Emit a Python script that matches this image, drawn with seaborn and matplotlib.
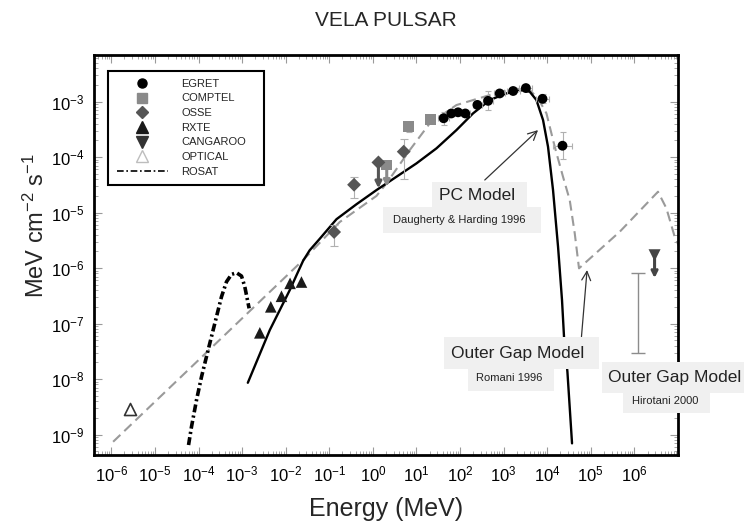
import numpy as np
import pandas as pd
import matplotlib
matplotlib.use("Agg")
import matplotlib.pyplot as plt
import seaborn as sns
from matplotlib.lines import Line2D
from matplotlib.patches import Rectangle
from matplotlib.ticker import FixedLocator, FuncFormatter, LogLocator, NullFormatter

# ---------------- measurements ----------------
egret_energy = [42, 63, 90, 132, 250, 440, 810, 1650, 3240, 7800, 22400]
egret_flux = [5.0e-4, 6.1e-4, 6.4e-4, 6.1e-4, 8.7e-4, 1.03e-3, 1.4e-3, 1.55e-3, 1.75e-3, 1.12e-3, 1.6e-4]
egret_err_dex = [0.12, 0.04, 0.04, 0.04, 0.06, 0.17, 0.05, 0.05, 0.04, 0.08, 0.24]
egret_bin_dex = [0.12, 0.10, 0.10, 0.10, 0.10, 0.12, 0.12, 0.15, 0.15, 0.15, 0.22]

comptel_energy = [6.65, 20.7]
comptel_flux = [3.5e-4, 4.8e-4]
comptel_err_dex = [0.09, 0.06]
comptel_limit_energy = [2.08]
comptel_limit_flux = [7.2e-5]
comptel_limit_floor = [2.9e-5]

osse_energy = [0.129, 0.37, 5.1]
osse_flux = [4.46e-6, 3.17e-5, 1.25e-4]
osse_flux_lo = [2.52e-6, 1.80e-5, 3.96e-5]
osse_flux_hi = [5.96e-6, 4.35e-5, 2.08e-4]
osse_limit_energy = [1.34]
osse_limit_flux = [8.0e-5]
osse_limit_floor = [2.73e-5]

rxte_energy = [2.55e-3, 4.55e-3, 8.0e-3, 1.26e-2, 2.3e-2]
rxte_flux = [6.8e-8, 2.0e-7, 3.1e-7, 5.3e-7, 5.6e-7]

optical_energy = [2.75e-6]
optical_flux = [2.85e-9]

cangaroo_energy = [2.9e6]
cangaroo_flux = [1.7e-6]
cangaroo_floor = [6.6e-7]

hirotani_energy = [1.2e6]
hirotani_lo = [3.0e-8]
hirotani_hi = [8.2e-7]

# ---------------- model / ROSAT curves (log10 MeV, log10 flux) ----------------
rosat_log_e = [-4.229, -4.161, -4.046, -3.931, -3.78, -3.626, -3.473, -3.358,
               -3.243, -3.128, -3.014, -2.938, -2.885, -2.839]
rosat_log_f = [-9.189, -8.859, -8.378, -7.958, -7.477, -6.996, -6.517, -6.247,
               -6.114, -6.085, -6.144, -6.337, -6.546, -6.726]

pc_log_e = [-2.869, -2.365, -1.906, -1.75, -1.601, -1.45, -1.216, -0.835, -0.376, 0.083,
            0.541, 1.0, 1.459, 1.917, 2.298, 2.681, 3.064, 3.445, 3.599, 3.752, 3.904,
            4.018, 4.133, 4.248, 4.339, 4.385, 4.463, 4.569]
pc_log_f = [-8.067, -7.117, -6.396, -6.125, -5.87, -5.68, -5.47, -5.12, -4.85, -4.595,
            -4.355, -4.114, -3.843, -3.514, -3.213, -2.973, -2.852, -2.793, -2.823, -2.973,
            -3.333, -3.814, -4.595, -5.616, -6.577, -7.238, -7.869, -9.159]

og_log_e = [-5.959, -1.601, -0.759, 0.083, 0.312, 0.846, 1.305, 1.917, 2.681, 3.216,
            3.599, 3.789, 3.982, 4.172, 4.362, 4.516, 4.631, 4.729, 5.663, 6.541,
            6.734, 6.924, 7.05]
og_log_f = [-9.13, -5.856, -5.17, -4.7, -4.474, -3.874, -3.393, -3.063, -2.883, -2.762,
            -2.793, -2.942, -3.213, -3.814, -4.355, -4.775, -5.375, -6.005, -5.346, -4.625,
            -4.924, -5.436, -5.65]

x_ticks = [10.0 ** k for k in range(-6, 7)]
y_ticks = [10.0 ** k for k in range(-9, -2)]


def curve(log_e, log_f):
    return pd.DataFrame({"energy": np.power(10.0, log_e), "flux": np.power(10.0, log_f)})


# ---------------- style ----------------
sns.set_theme(style="ticks")
plt.rcParams["font.family"] = ["Liberation Sans", "DejaVu Sans"]
plt.rcParams["mathtext.fontset"] = "custom"
plt.rcParams["mathtext.rm"] = "Liberation Sans"
plt.rcParams["mathtext.it"] = "Liberation Sans:italic"
plt.rcParams["mathtext.bf"] = "Liberation Sans:bold"

W, H = 744, 527
fig = plt.figure(figsize=(W / 100, H / 100), dpi=100)
fig.patch.set_facecolor("white")
ax = fig.add_axes([94 / W, 72 / H, 584 / W, 400 / H])
ax.set_xscale("log")
ax.set_yscale("log")

# ---------------- curves ----------------
sns.lineplot(data=curve(og_log_e, og_log_f), x="energy", y="flux", sort=False,
             estimator=None, color="#9a9a9a", lw=1.5, linestyle=(0, (4.8, 2.6)), ax=ax)
sns.lineplot(data=curve(pc_log_e, pc_log_f), x="energy", y="flux", sort=False,
             estimator=None, color="black", lw=1.7, ax=ax)
sns.lineplot(data=curve(rosat_log_e, rosat_log_f), x="energy", y="flux", sort=False,
             estimator=None, color="black", lw=2.6, linestyle=(0, (2.2, 0.9, 0.6, 0.9)), ax=ax)

# ---------------- error bars ----------------
eg_e = np.array(egret_energy)
eg_f = np.array(egret_flux)
eg_d = np.array(egret_err_dex)
eg_b = np.array(egret_bin_dex)
ax.errorbar(eg_e, eg_f,
            yerr=[eg_f * (1 - 10 ** -eg_d), eg_f * (10 ** eg_d - 1)],
            xerr=[eg_e * (1 - 10 ** -eg_b), eg_e * (10 ** eg_b - 1)],
            fmt="none", ecolor="#b0b0b0", elinewidth=0.8, capsize=2, capthick=0.8, zorder=3)
cp_e = np.array(comptel_energy)
cp_f = np.array(comptel_flux)
cp_d = np.array(comptel_err_dex)
ax.errorbar(cp_e, cp_f, yerr=[cp_f * (1 - 10 ** -cp_d), cp_f * (10 ** cp_d - 1)],
            fmt="none", ecolor="#b0b0b0", elinewidth=0.8, capsize=2, capthick=0.8, zorder=3)
os_f = np.array(osse_flux)
ax.errorbar(osse_energy, os_f,
            yerr=[os_f - np.array(osse_flux_lo), np.array(osse_flux_hi) - os_f],
            fmt="none", ecolor="#b0b0b0", elinewidth=0.8, capsize=3, capthick=0.8, zorder=3)
hi_mid = np.sqrt(np.array(hirotani_lo) * np.array(hirotani_hi))
ax.errorbar(hirotani_energy, hi_mid,
            yerr=[hi_mid - np.array(hirotani_lo), np.array(hirotani_hi) - hi_mid],
            fmt="none", ecolor="#8c8c8c", elinewidth=1.0, capsize=5, capthick=1.0, zorder=3)

# ---------------- upper limits ----------------
for e, top, floor, col, style in [
    (osse_limit_energy[0], osse_limit_flux[0], osse_limit_floor[0], "#555555", "-|>"),
    (comptel_limit_energy[0], comptel_limit_flux[0], comptel_limit_floor[0], "#8a8a8a", "-|>"),
    (cangaroo_energy[0], cangaroo_flux[0], cangaroo_floor[0], "#444444", "->"),
]:
    ax.annotate("", xy=(e, floor), xytext=(e, top),
                arrowprops=dict(arrowstyle=style, color=col, lw=2.2, mutation_scale=9,
                                shrinkA=0, shrinkB=0), zorder=4)

# ---------------- data points ----------------
sns.scatterplot(x=egret_energy, y=egret_flux, marker="o", color="black", s=50,
                edgecolor="none", ax=ax, zorder=5)
sns.scatterplot(x=comptel_energy + comptel_limit_energy, y=comptel_flux + comptel_limit_flux,
                marker="s", color="#8a8a8a", s=60, edgecolor="none", ax=ax, zorder=5)
sns.scatterplot(x=osse_energy + osse_limit_energy, y=osse_flux + osse_limit_flux,
                marker="D", color="#555555", s=50, edgecolor="none", ax=ax, zorder=5)
sns.scatterplot(x=rxte_energy, y=rxte_flux, marker="^", color="#1a1a1a", s=70,
                edgecolor="none", ax=ax, zorder=5)
sns.scatterplot(x=cangaroo_energy, y=cangaroo_flux, marker="v", color="#444444", s=75,
                edgecolor="none", ax=ax, zorder=5)
sns.scatterplot(x=optical_energy, y=optical_flux, marker="^", facecolor="white",
                edgecolor="#333333", linewidth=1.2, s=75, ax=ax, zorder=5)

# ---------------- axes ----------------
ax.set_xlim(4.0e-7, 1.0e7)
ax.set_ylim(4.28e-10, 6.9e-3)
ax.xaxis.set_major_locator(FixedLocator(x_ticks))
ax.yaxis.set_major_locator(FixedLocator(y_ticks))
ax.xaxis.set_minor_locator(LogLocator(base=10, subs=np.arange(2, 10), numticks=100))
ax.yaxis.set_minor_locator(LogLocator(base=10, subs=np.arange(2, 10), numticks=100))
ax.xaxis.set_minor_formatter(NullFormatter())
ax.yaxis.set_minor_formatter(NullFormatter())
sci = FuncFormatter(lambda v, p: r"$\mathregular{10^{%d}}$" % int(round(np.log10(v))))
ax.xaxis.set_major_formatter(sci)
ax.yaxis.set_major_formatter(sci)
ax.tick_params(which="both", direction="in", top=True, right=True, color="#9a9a9a",
               labelsize=12, labelcolor="black")
ax.tick_params(which="major", length=6, width=0.8, pad=7)
ax.tick_params(which="minor", length=3, width=0.6)
for sp in ax.spines.values():
    sp.set_color("black")
    sp.set_linewidth(2.0)

ax.set_xlabel("Energy (MeV)", fontsize=18)
ax.xaxis.set_label_coords(0.5, -0.135)
ax.xaxis.label.set_va("center")
ax.set_ylabel(r"MeV cm$\mathregular{^{-2}}$ s$\mathregular{^{-1}}$", fontsize=17)
ax.yaxis.set_label_coords(-0.098, 0.575)
ax.yaxis.label.set_va("center")
fig.text(386 / W, 1 - 21 / H, "VELA PULSAR", ha="center", va="center", fontsize=15)

# ---------------- legend ----------------
handles = [
    Line2D([], [], ls="none", marker="o", color="black", ms=6.5, label="EGRET"),
    Line2D([], [], ls="none", marker="s", color="#8a8a8a", ms=7, label="COMPTEL"),
    Line2D([], [], ls="none", marker="D", color="#555555", ms=6.3, label="OSSE"),
    Line2D([], [], ls="none", marker="^", color="#1a1a1a", ms=8, label="RXTE"),
    Line2D([], [], ls="none", marker="v", color="#333333", ms=8.5, label="CANGAROO"),
    Line2D([], [], ls="none", marker="^", mfc="white", mec="#bdbdbd", mew=1.0, ms=8.5,
           label="OPTICAL"),
    Line2D([], [], color="black", lw=1.2, ls=(0, (4, 1.6, 1, 1.6)), label="ROSAT"),
]
# legend frame drawn as its own box so its width can be set
ax.add_patch(Rectangle((108.3 / W, 1 - 185.3 / H), (264.3 - 108.3) / W, (185.3 - 70.7) / H,
                       transform=fig.transFigure, fc="white", ec="black", lw=1.5,
                       zorder=4.8, clip_on=False))
leg = ax.legend(handles=handles, loc="upper left", bbox_to_anchor=(0.0245, 0.961),
                borderaxespad=0, fontsize=8, frameon=False, handlelength=4.6,
                handletextpad=1.25, labelspacing=0.42, borderpad=0.74)
leg.set_zorder(5)


# ---------------- model labels ----------------
def label_box(x0, y0, x1, y1):
    fig.add_artist(Rectangle((x0 / W, 1 - y1 / H), (x1 - x0) / W, (y1 - y0) / H,
                             transform=fig.transFigure, fc="#f0f0f0", ec="none", zorder=10))


def label_text(cx, cy, s, size):
    fig.text(cx / W, 1 - cy / H, s, ha="center", va="center", fontsize=size,
             color="#222222", zorder=11)


label_box(431.7, 181.7, 526.7, 206.7)
label_box(383.3, 206.7, 540.7, 233.3)
label_text(477.5, 195.0, "PC Model", 12.5)
label_text(459.0, 220.0, "Daugherty & Harding 1996", 8)

label_box(444.3, 337.3, 599.0, 369.3)
label_box(467.7, 369.3, 554.0, 390.7)
label_text(517.3, 353.3, "Outer Gap Model", 12.5)
label_text(509.0, 378.0, "Romani 1996", 8)

label_box(601.7, 361.7, 744.0, 393.3)
label_box(623.3, 393.3, 710.0, 413.3)
label_text(675.0, 377.3, "Outer Gap Model", 12.5)
label_text(665.0, 401.0, "Hirotani 2000", 8)

arrow_kw = dict(arrowstyle="->", color="#333333", lw=0.9, mutation_scale=16,
                shrinkA=0, shrinkB=0)
ax.annotate("", xy=(6150, 3.06e-4), xytext=(369, 3.86e-5), arrowprops=arrow_kw)
ax.annotate("", xy=(8.2e4, 9.2e-7), xytext=(6.1e4, 5.8e-8), arrowprops=arrow_kw)

fig.savefig("out.png", dpi=100, facecolor="white")
